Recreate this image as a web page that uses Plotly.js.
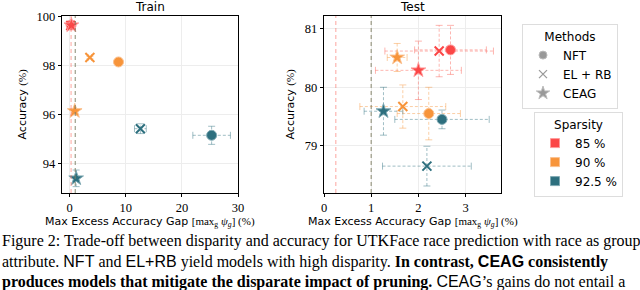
<!DOCTYPE html>
<html><head><meta charset="utf-8">
<script src="https://cdn.plot.ly/plotly-3.0.1.min.js"></script>
<style>html,body{margin:0;padding:0;background:#fff}#chart{width:640px;height:290px}</style>
</head><body><div id="chart"></div>
<script>
// ---- data ----
const methods = ['NFT', 'EL + RB', 'CEAG'];
const sparsityLabels = ['85 %', '90 %', '92.5 %'];
// order within each array: 85 %, 90 %, 92.5 %
const trainNFTx = [0.25, 8.7, 25.3];
const trainNFTy = [99.66, 98.15, 95.15];
const trainNFTxerr = [0.3, 0.3, 3.35];
const trainNFTyerr = [0.05, 0.05, 0.37];
const trainELx = [0.2, 3.6, 12.6];
const trainELy = [99.64, 98.33, 95.42];
const trainELxerr = [0.3, 0.3, 1.05];
const trainELyerr = [0.05, 0.05, 0.2];
const trainCEAGx = [0.3, 0.9, 1.15];
const trainCEAGy = [99.65, 96.14, 93.39];
const trainCEAGxerr = [0.3, 0.3, 0.3];
const trainCEAGyerr = [0.05, 0.08, 0.34];

const testNFTx = [2.68, 2.22, 2.50];
const testNFTy = [80.64, 79.55, 79.45];
const testNFTxerr = [0.76, 0.67, 1.0];
const testNFTyerr = [0.42, 0.45, 0.16];
const testELx = [2.44, 1.67, 2.18];
const testELy = [80.62, 79.67, 78.65];
const testELxerr = [1.15, 0.91, 0.94];
const testELyerr = [0.44, 0.37, 0.34];
const testCEAGx = [2.0, 1.55, 1.26];
const testCEAGy = [80.29, 80.51, 79.59];
const testCEAGxerr = [0.91, 0.21, 0.41];
const testCEAGyerr = [0.5, 0.24, 0.41];

const trainTolerance = [0.25, 1.0, 1.0];
const testTolerance = [0.25, 1.0, 1.0];

const trainXTicks = [0, 10, 20, 30];
const trainYTicks = [94, 96, 98, 100];
const testXTicks = [0, 1, 2, 3];
const testYTicks = [79, 80, 81];

// ---- styles ----
const colors = ['#fb4646', '#f7943a', '#2d6f7e'];
const edgeColors = ['#ff9a9a', '#fbc08e', '#7fa9b3'];
const lightColors = ['rgba(251,90,80,0.45)', 'rgba(247,148,58,0.45)', 'rgba(45,111,126,0.45)'];
const symbols = ['circle', 'x-thin', 'star'];
const serif = 'Liberation Serif, DejaVu Serif, serif';
const sans = 'DejaVu Sans, sans-serif';

const traces = [];

function errorTraces(sets, xa, ya) {
  for (let c = 0; c < 3; c++) {
    const x = [], y = [], sym = [];
    sets.forEach(s => {
      const px = s[0][c], py = s[1][c], ex = s[2][c], ey = s[3][c];
      x.push(px - ex, px + ex, null, px, px, null);
      y.push(py, py, null, py - ey, py + ey, null);
      sym.push('line-ns', 'line-ns', 'line-ns', 'line-ew', 'line-ew', 'line-ew');
    });
    traces.push({
      type: 'scatter', mode: 'lines+markers', x: x, y: y, xaxis: xa, yaxis: ya,
      showlegend: false, hoverinfo: 'skip', connectgaps: false,
      line: {color: lightColors[c], width: 1, dash: '3px,2px'},
      marker: {symbol: sym, size: 5, color: lightColors[c], line: {color: lightColors[c], width: 1}}
    });
  }
}

function markerTraces(sets, xa, ya) {
  sets.forEach((s, m) => {
    const isX = symbols[m] === 'x-thin';
    traces.push({
      type: 'scatter', mode: 'markers', x: s[0], y: s[1], xaxis: xa, yaxis: ya,
      showlegend: false, hoverinfo: 'skip',
      marker: {
        symbol: symbols[m],
        size: m === 0 ? 10 : (m === 1 ? 9 : 11),
        color: colors,
        line: isX ? {color: colors, width: 2} : {color: edgeColors, width: 1}
      }
    });
  });
}

const trainSets = [
  [trainNFTx, trainNFTy, trainNFTxerr, trainNFTyerr],
  [trainELx, trainELy, trainELxerr, trainELyerr],
  [trainCEAGx, trainCEAGy, trainCEAGxerr, trainCEAGyerr]
];
const testSets = [
  [testNFTx, testNFTy, testNFTxerr, testNFTyerr],
  [testELx, testELy, testELxerr, testELyerr],
  [testCEAGx, testCEAGy, testCEAGxerr, testCEAGyerr]
];
errorTraces(trainSets, 'x', 'y');
errorTraces(testSets, 'x2', 'y2');
markerTraces(trainSets, 'x', 'y');
markerTraces(testSets, 'x2', 'y2');

// legend entries
methods.forEach((name, m) => {
  const isX = symbols[m] === 'x-thin';
  traces.push({
    type: 'scatter', mode: 'markers', x: [null], y: [null], xaxis: 'x', yaxis: 'y',
    name: name, legend: 'legend', showlegend: true,
    marker: {symbol: symbols[m], size: m === 2 ? 10 : 8, color: '#999999',
      line: isX ? {color: '#999999', width: 1.3} : {color: '#bbbbbb', width: 1}}
  });
});
sparsityLabels.forEach((name, c) => {
  traces.push({
    type: 'scatter', mode: 'markers', x: [null], y: [null], xaxis: 'x', yaxis: 'y',
    name: name, legend: 'legend2', showlegend: true,
    marker: {symbol: 'square', size: 9, color: colors[c], line: {color: edgeColors[c], width: 1}}
  });
});

const shapes = [];
[[trainTolerance, 'x', 'y'], [testTolerance, 'x2', 'y2']].forEach(t => {
  t[0].forEach((v, c) => {
    shapes.push({type: 'line', xref: t[1], yref: t[2] + ' domain', x0: v, x1: v, y0: 0, y1: 1,
      line: {color: lightColors[c], width: 1.2, dash: '4px,3px'}, layer: 'above'});
  });
});

function axisBase() {
  return {
    showgrid: true, gridcolor: '#ededed', gridwidth: 1, zeroline: false,
    showline: true, mirror: true, linecolor: '#000', linewidth: 1.2,
    ticks: 'outside', ticklen: 3, tickcolor: '#000', tickwidth: 1,
    tickfont: {family: serif, size: 12.5, color: '#000'}, fixedrange: true
  };
}

const xTitle = 'Max Excess Accuracy Gap <span style="font-family:Liberation Serif">[max<sub>g</sub> <i>ψ<sub>g</sub></i>] (%)</span>';
const yTitle = 'Accuracy <span style="font-family:Liberation Serif">(%)</span>';

function ann(text, px, py, font, extra) {
  return Object.assign({text: text, x: px / 640, y: 1 - py / 290, xref: 'paper', yref: 'paper',
    xanchor: 'center', yanchor: 'middle', showarrow: false, font: font}, extra || {});
}
const cap = {family: serif, size: 16, color: '#000'};
const t12 = {family: sans, size: 12, color: '#000'};
const t11 = {family: sans, size: 11, color: '#000'};
const annotations = [
  ann('Train', 150, 7, t12),
  ann('Test', 412.5, 7, t12),
  ann(yTitle, 22, 104.5, t11, {textangle: -90}),
  ann(yTitle, 290, 104.5, t11, {textangle: -90}),
  ann(xTitle, 150, 222, t11),
  ann(xTitle, 412.5, 222, t11),
  ann('Figure 2: Trade-off between disparity and accuracy for UTKFace race prediction with race as group', 0, 240.5, cap, {xanchor: 'left'}),
  ann('attribute. <span style="font-family:Liberation Sans">NFT</span> and <span style="font-family:Liberation Sans">EL+RB</span> yield models with high disparity. <b>In contrast, <span style="font-family:Liberation Sans">CEAG</span> consistently</b>', 0, 261.5, cap, {xanchor: 'left'}),
  ann('<b>produces models that mitigate the disparate impact of pruning.</b> <span style="font-family:Liberation Sans">CEAG</span>’s gains do not entail a', 0, 281.5, cap, {xanchor: 'left'})
];

const layout = {
  width: 640, height: 290, margin: {l: 0, r: 0, t: 0, b: 0},
  paper_bgcolor: '#fff', plot_bgcolor: '#fff',
  xaxis: Object.assign(axisBase(), {domain: [62 / 640, 238 / 640], range: [-1.37, 30], tickvals: trainXTicks, anchor: 'y'}),
  yaxis: Object.assign(axisBase(), {domain: [1 - 193 / 290, 1 - 16 / 290], range: [92.79, 100.03], tickvals: trainYTicks, anchor: 'x'}),
  xaxis2: Object.assign(axisBase(), {domain: [324 / 640, 501 / 640], range: [0, 3.75], tickvals: testXTicks, anchor: 'y2'}),
  yaxis2: Object.assign(axisBase(), {domain: [1 - 193 / 290, 1 - 16 / 290], range: [78.19, 81.22], tickvals: testYTicks, anchor: 'x2'}),
  legend: {
    x: 522 / 640, y: 1 - 24 / 290, xanchor: 'left', yanchor: 'top',
    bgcolor: '#fff', bordercolor: '#dddddd', borderwidth: 1,
    font: t12,
    title: {text: 'Methods', side: 'top center', font: t12},
    tracegroupgap: 0, itemclick: false, itemdoubleclick: false
  },
  legend2: {
    x: 534 / 640, y: 1 - 112 / 290, xanchor: 'left', yanchor: 'top',
    bgcolor: '#fff', bordercolor: '#dddddd', borderwidth: 1,
    font: t12,
    title: {text: 'Sparsity', side: 'top center', font: t12},
    tracegroupgap: 0, itemclick: false, itemdoubleclick: false
  },
  shapes: shapes,
  annotations: annotations
};

Plotly.newPlot('chart', traces, layout, {staticPlot: true, displayModeBar: false});
</script>
</body></html>
